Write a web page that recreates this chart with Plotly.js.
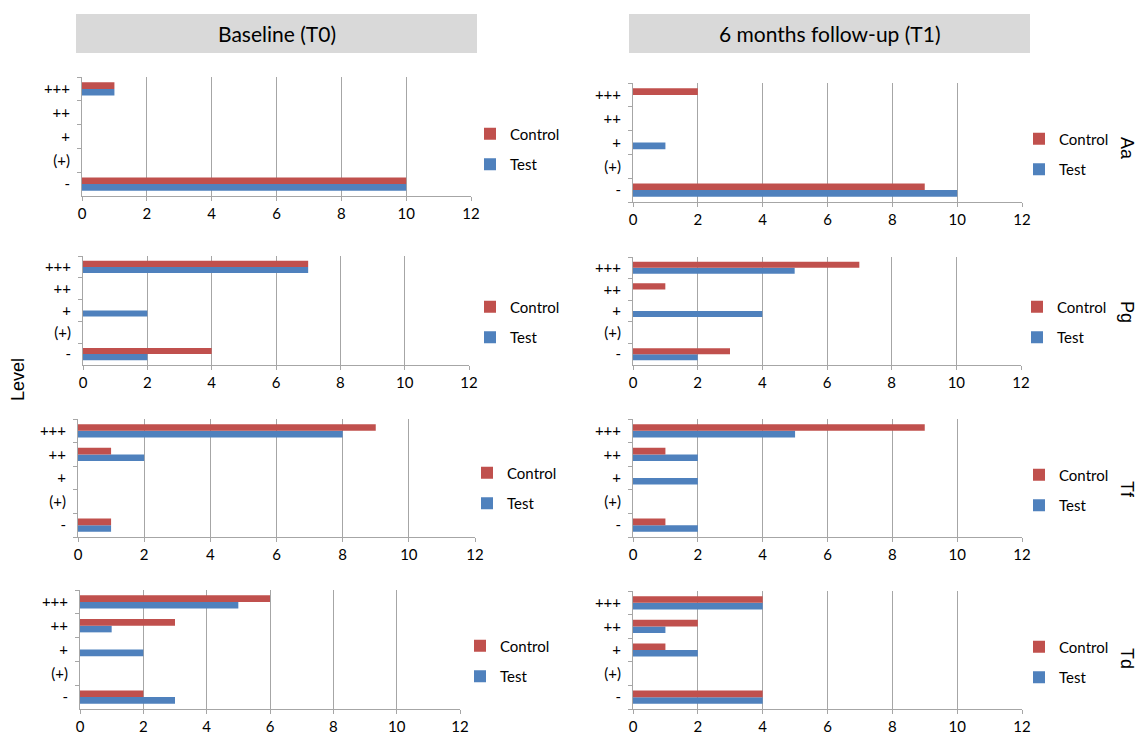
<!DOCTYPE html>
<html><head><meta charset="utf-8">
<script src="https://cdn.plot.ly/plotly-3.0.1.min.js"></script>
<style>html,body{margin:0;padding:0;background:#fff}#chart{width:1141px;height:735px}</style>
</head><body><div id="chart"></div>
<script>
// categories (bottom to top)
const levels = ["-", "(+)", "+", "++", "+++"];
const seriesNames = ["Control", "Test"];
const bacteria = ["Aa", "Pg", "Tf", "Td"];
const periods = ["Baseline (T0)", "6 months follow-up (T1)"];
const xTickVals = [0, 2, 4, 6, 8, 10, 12];

// values per level: -, (+), +, ++, +++
const aaT0Control = [10, 0, 0, 0, 1];
const aaT0Test    = [10, 0, 0, 0, 1];
const aaT1Control = [9, 0, 0, 0, 2];
const aaT1Test    = [10, 0, 1, 0, 0];
const pgT0Control = [4, 0, 0, 0, 7];
const pgT0Test    = [2, 0, 2, 0, 7];
const pgT1Control = [3, 0, 0, 1, 7];
const pgT1Test    = [2, 0, 4, 0, 5];
const tfT0Control = [1, 0, 0, 1, 9];
const tfT0Test    = [1, 0, 0, 2, 8];
const tfT1Control = [1, 0, 0, 1, 9];
const tfT1Test    = [2, 0, 2, 2, 5];
const tdT0Control = [2, 0, 0, 3, 6];
const tdT0Test    = [3, 0, 2, 1, 5];
const tdT1Control = [4, 0, 1, 2, 4];
const tdT1Test    = [4, 0, 2, 1, 4];

const panelData = [
  [[aaT0Control, aaT0Test], [aaT1Control, aaT1Test]],
  [[pgT0Control, pgT0Test], [pgT1Control, pgT1Test]],
  [[tfT0Control, tfT0Test], [tfT1Control, tfT1Test]],
  [[tdT0Control, tdT0Test], [tdT1Control, tdT1Test]]
];

// ---- layout geometry (pixels) ----
const W = 1141, H = 735;
const px = v => v / W;
const py = v => 1 - v / H;
const boxes = [
  [[82, 471, 77, 196], [633, 1022, 83, 202]],
  [[83, 469, 256, 365], [633, 1021, 257, 365]],
  [[78, 475, 419, 537], [633, 1022, 419, 537]],
  [[80, 460, 590, 709], [633, 1022, 591, 709]]
];
const legendPos = [
  [[470, 149], [1019, 154]],
  [[470, 322], [1017, 322]],
  [[467, 488], [1019, 490]],
  [[460, 661], [1019, 662]]
];
const colors = {Control: "#C0504D", Test: "#4F81BD"};
const FONT = "Lato, 'Open Sans', sans-serif";
const gridCol = "#a6a6a6";

const traces = [];
const layout = {
  width: W, height: H,
  margin: {l: 0, r: 0, t: 0, b: 0},
  paper_bgcolor: "#fff", plot_bgcolor: "rgba(0,0,0,0)",
  barmode: "group", bargap: 0.44, bargroupgap: 0,
  font: {family: FONT, size: 15, color: "#000"},
  showlegend: true,
  shapes: [], annotations: []
};

let k = 0;
for (let r = 0; r < 4; r++) {
  for (let c = 0; c < 2; c++) {
    const id = k + 1;
    const xa = "x" + (id === 1 ? "" : id), ya = "y" + (id === 1 ? "" : id);
    const lg = "legend" + (id === 1 ? "" : id);
    const [x0, x1, y0, y1] = boxes[r][c];
    // Test first so Control is drawn above it within each group
    ["Test", "Control"].forEach(name => {
      const vals = panelData[r][c][name === "Control" ? 0 : 1];
      traces.push({
        type: "bar", orientation: "h",
        x: vals, y: levels, name: name,
        xaxis: xa, yaxis: ya, legend: lg,
        legendgroup: "p" + k + name,
        legendrank: name === "Control" ? 1 : 2,
        marker: {color: colors[name], line: {width: 0}},
        hoverinfo: "x+y+name"
      });
    });
    layout["xaxis" + (id === 1 ? "" : id)] = {
      domain: [px(x0), px(x1)], anchor: ya,
      range: [0, 12], tickvals: xTickVals, ticktext: xTickVals.map(String),
      showgrid: true, gridcolor: gridCol, gridwidth: 1,
      showline: true, linecolor: gridCol, linewidth: 1,
      ticks: "outside", ticklen: 4, tickcolor: gridCol,
      zeroline: false, fixedrange: true,
      tickfont: {family: FONT, size: 15, color: "#000"}
    };
    layout["yaxis" + (id === 1 ? "" : id)] = {
      domain: [py(y1), py(y0)], anchor: xa,
      type: "category", categoryorder: "array", categoryarray: levels,
      range: [-0.5, 4.5],
      showgrid: false, showline: true, linecolor: gridCol, linewidth: 1,
      ticks: "outside", ticklen: 4, tickcolor: gridCol, tickson: "boundaries",
      ticklabelstandoff: 8, fixedrange: true,
      tickfont: {family: FONT, size: 15, color: "#000"}
    };
    layout[lg] = {
      x: px(legendPos[r][c][0]), y: py(legendPos[r][c][1]),
      xanchor: "left", yanchor: "middle",
      bgcolor: "rgba(0,0,0,0)", borderwidth: 0,
      traceorder: "grouped", tracegroupgap: 8,
      font: {family: FONT, size: 15, color: "#000"},
      itemclick: false, itemdoubleclick: false
    };
    k++;
  }
}

// header boxes
const headerBoxes = [[76, 477], [629, 1030]];
periods.forEach((p, i) => {
  layout.shapes.push({
    type: "rect", xref: "paper", yref: "paper",
    x0: px(headerBoxes[i][0]), x1: px(headerBoxes[i][1]),
    y0: py(53), y1: py(14),
    fillcolor: "#d9d9d9", line: {width: 0}, layer: "below"
  });
  layout.annotations.push({
    xref: "paper", yref: "paper", showarrow: false,
    x: px((headerBoxes[i][0] + headerBoxes[i][1]) / 2), y: py(33.5),
    xanchor: "center", yanchor: "middle",
    text: p, font: {family: FONT, size: 21, color: "#000"}
  });
});

// row labels on the right
const rowLabelY = [148, 312, 489, 658];
bacteria.forEach((b, i) => {
  layout.annotations.push({
    xref: "paper", yref: "paper", showarrow: false,
    x: px(1127), y: py(rowLabelY[i]), xanchor: "center", yanchor: "middle",
    text: b, textangle: 90,
    font: {family: "'Liberation Sans', Arial, sans-serif", size: 18, color: "#000"}
  });
});

// shared y title
layout.annotations.push({
  xref: "paper", yref: "paper", showarrow: false,
  x: px(18), y: py(380), xanchor: "center", yanchor: "middle",
  text: "Level", textangle: -90,
  font: {family: "'Liberation Sans', Arial, sans-serif", size: 18, color: "#000"}
});

Plotly.newPlot("chart", traces, layout, {displayModeBar: false, staticPlot: false});
</script>
</body></html>
